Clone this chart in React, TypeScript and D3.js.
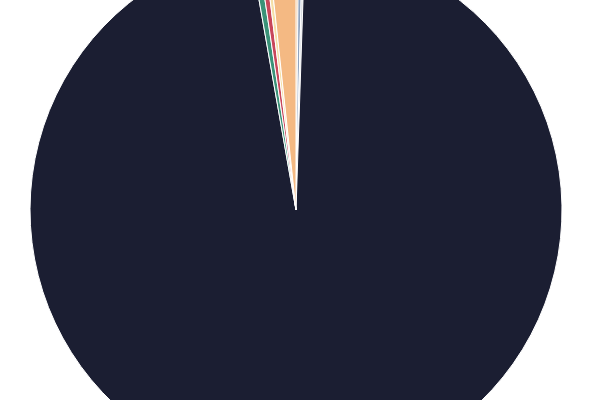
import React from 'react';
import * as d3 from 'd3';

// slice order as drawn, clockwise from 12 o'clock
const categories = ['Orange', 'Slate', 'Silver', 'Navy', 'Teal', 'Rose', 'Cream', 'Peach'];
const values = [0.15, 0.24, 0.14, 96.7, 0.44, 0.38, 0.26, 1.69];
const colors = ['#e8913a', '#8fa3bf', '#c9ced6', '#1b1e32', '#3a9278', '#c8465a', '#f5dfa6', '#f4b983'];

const WIDTH = 600;
const HEIGHT = 400;
const CX = 296;
const CY = 210;
const RADIUS = 266;

export default function App() {
  const data = categories.map((c, i) => ({ name: c, value: values[i], color: colors[i] }));

  const pie = d3
    .pie<{ name: string; value: number; color: string }>()
    .sort(null)
    .value(d => d.value);

  const arc: any = d3.arc().innerRadius(0).outerRadius(RADIUS);

  const arcs = pie(data);

  return (
    <svg
      width={WIDTH}
      height={HEIGHT}
      style={{ position: 'absolute', left: 0, top: 0, display: 'block' }}
    >
      <g transform={`translate(${CX},${CY})`}>
        {arcs.map((a, i) => (
          <path key={i} d={arc(a)} fill={a.data.color} stroke="#ffffff" strokeWidth={1} />
        ))}
      </g>
    </svg>
  );
}
